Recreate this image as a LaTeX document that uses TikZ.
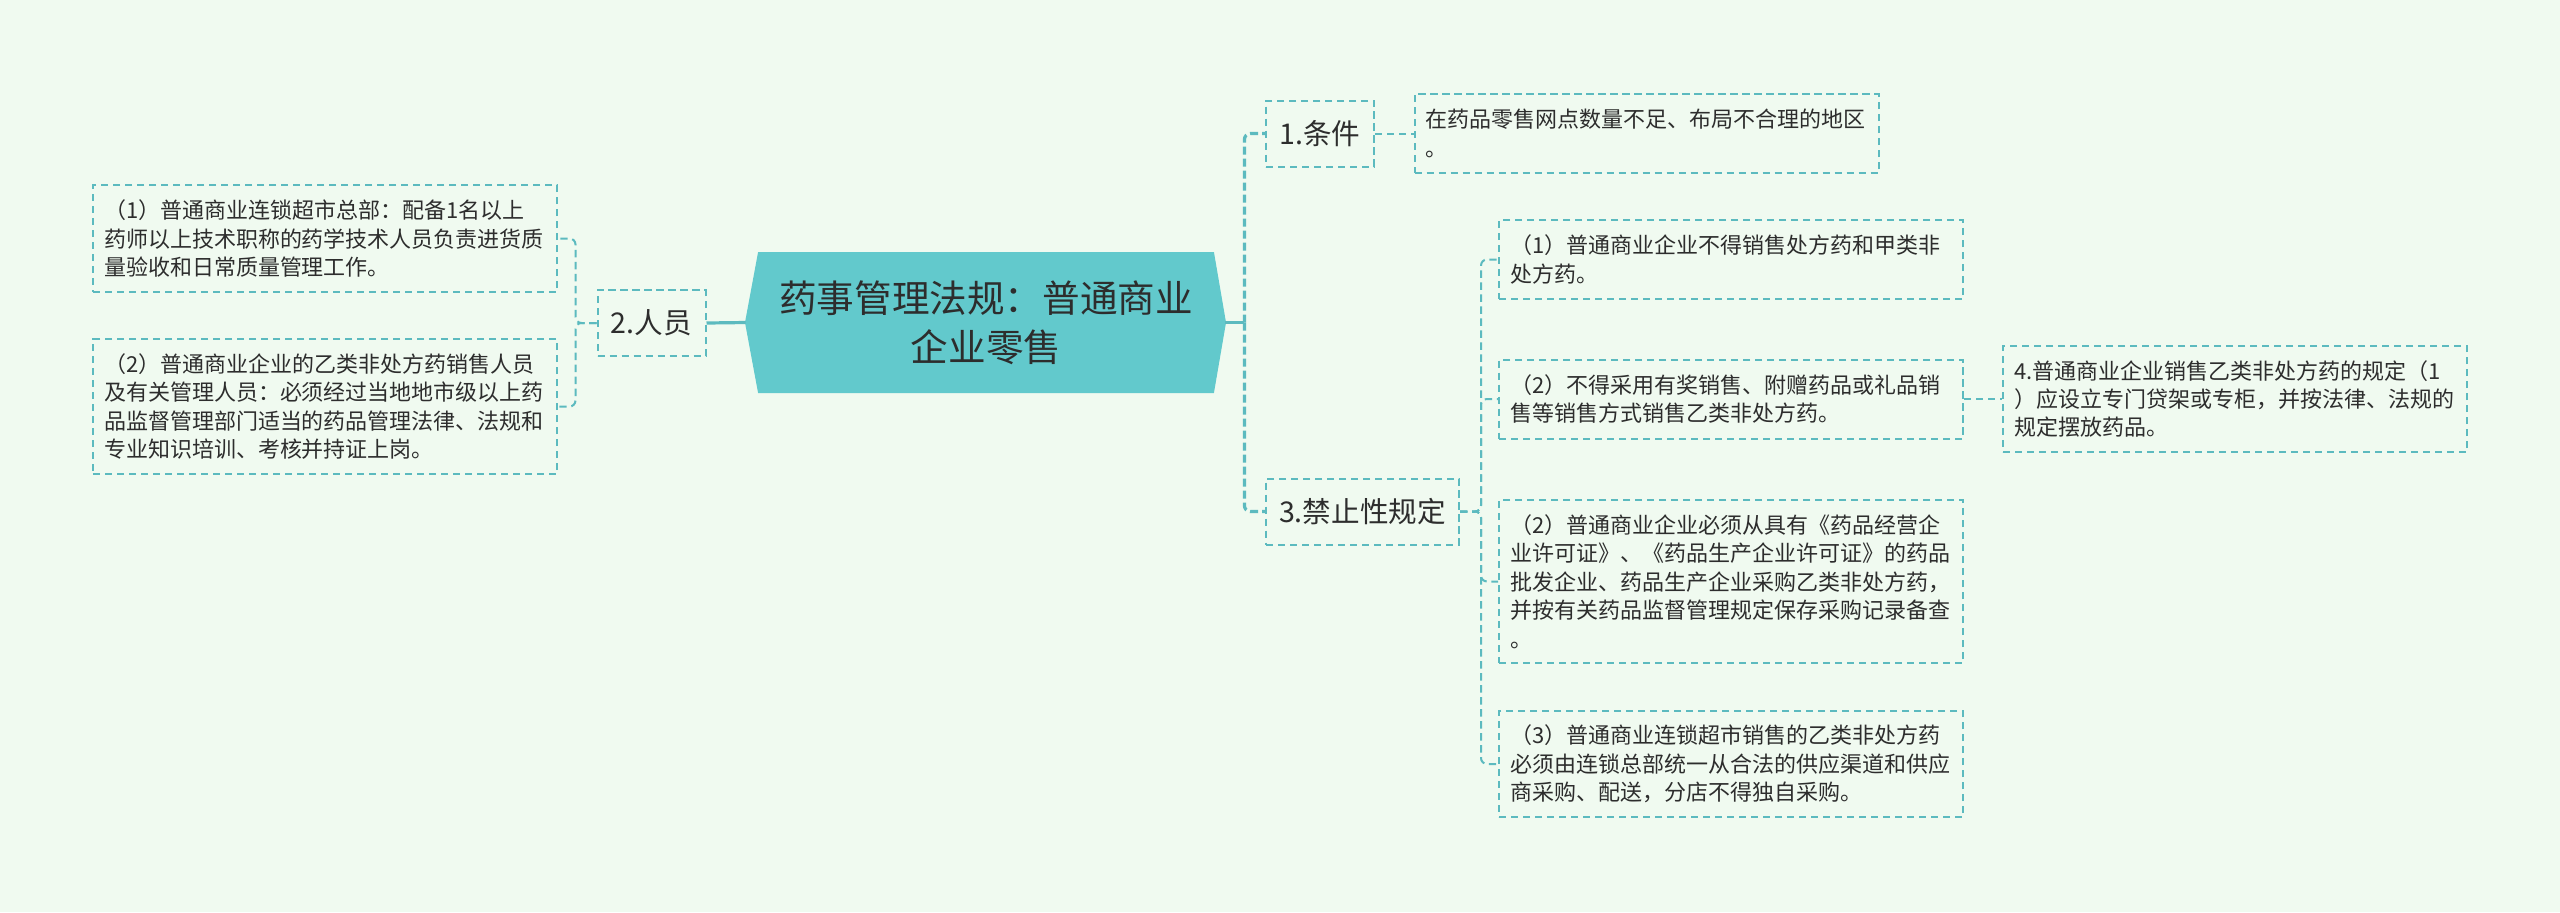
\documentclass[tikz,border=0pt]{standalone}
\usepackage{fontspec}
\setmainfont{Noto Sans CJK SC}
\usetikzlibrary{calc,backgrounds}
\definecolor{bgc}{RGB}{240,250,240}
\definecolor{hexc}{RGB}{98,201,204}
\definecolor{lnc}{RGB}{92,186,191}
\definecolor{txt}{RGB}{45,45,45}
\begin{document}
\begin{tikzpicture}[x=0.5pt,y=-0.5pt,
  leaf/.style={draw=lnc, line width=1pt, dash pattern=on 3.7pt off 2.3pt,
    text=txt, font=\fontsize{11pt}{14.2pt}\selectfont, align=left,
    text width=221pt, inner xsep=5.5pt, inner ysep=0pt},
  lvlone/.style={draw=lnc, line width=1pt, dash pattern=on 3.7pt off 2.3pt,
    text=txt, font=\fontsize{14.3pt}{17pt}\selectfont, inner sep=0pt,
    minimum height=33pt},
  mainbox/.style={text=txt, font=\fontsize{18.8pt}{24.5pt}\selectfont,
    align=center, inner sep=0pt, minimum width=227pt, minimum height=69.5pt},
  conn/.style={draw=lnc, line width=1pt, dash pattern=on 3.7pt off 2.3pt,
    rounded corners=3pt},
  trunkv/.style={draw=lnc, line width=1.6pt, dash pattern=on 4pt off 2pt,
    rounded corners=3pt},
  trunk/.style={draw=lnc, line width=1.6pt}]
\useasboundingbox (0,0) rectangle (2560,912);

% central topic
\node[mainbox] (main) at (986,322.5) {药事管理法规：普通商业\\企业零售};
\coordinate (mainL) at ($(main.west)+(-13,0)$);
\coordinate (mainR) at ($(main.east)+(12,0)$);
\coordinate (jR) at ($(mainR)+(19,0)$);

% level 1
\node[lvlone, minimum width=54pt] (P2) at (651.5,323) {2.人员};
\node[lvlone, minimum width=54pt] (P1) at (1320,133.5) {1.条件};
\node[lvlone, minimum width=96.5pt] (P3) at (1362.5,511.5) {3.禁止性规定};

% leaves
\node[leaf, minimum height=53.5pt] (A1) at (325,238.5)
  {（1）普通商业连锁超市总部：配备1名以上\\药师以上技术职称的药学技术人员负责进货质\\量验收和日常质量管理工作。};
\node[leaf, minimum height=67.5pt] (A2) at (325,406.5)
  {（2）普通商业企业的乙类非处方药销售人员\\及有关管理人员：必须经过当地地市级以上药\\品监督管理部门适当的药品管理法律、法规和\\专业知识培训、考核并持证上岗。};
\node[leaf, minimum height=39.5pt] (Cd) at (1646.5,133.5)
  {在药品零售网点数量不足、布局不合理的地区\\。};
\node[leaf, minimum height=39.5pt] (B1) at (1731,259.5)
  {（1）普通商业企业不得销售处方药和甲类非\\处方药。};
\node[leaf, minimum height=39.5pt] (B2) at (1731,399)
  {（2）不得采用有奖销售、附赠药品或礼品销\\售等销售方式销售乙类非处方药。};
\node[leaf, minimum height=81.5pt] (B3) at (1731,581.5)
  {（2）普通商业企业必须从具有《药品经营企\\业许可证》、《药品生产企业许可证》的药品\\批发企业、药品生产企业采购乙类非处方药，\\并按有关药品监督管理规定保存采购记录备查\\。};
\node[leaf, minimum height=53pt] (B4) at (1731,764)
  {（3）普通商业连锁超市销售的乙类非处方药\\必须由连锁总部统一从合法的供应渠道和供应\\商采购、配送，分店不得独自采购。};
\node[leaf, minimum height=53pt] (C) at (2235,399)
  {4.普通商业企业销售乙类非处方药的规定（1\\）应设立专门贷架或专柜，并按法律、法规的\\规定摆放药品。};

% background and hexagon
\begin{scope}[on background layer]
  \fill[bgc] (0,0) rectangle (2560,912);
  \filldraw[fill=hexc, draw=hexc, line width=0.6pt]
    (main.north west) -- (main.north east) -- (mainR) -- (main.south east)
    -- (main.south west) -- (mainL) -- cycle;
\end{scope}

% connectors
\draw[trunk] (mainL) -- (P2.east);
\draw[trunk] (mainR) -- (jR);
\draw[trunkv] (jR) |- (P1.west);
\draw[trunkv] (jR) |- (P3.west);

\draw[conn] (P2.west) -- ++(-21,0) |- (A1.east);
\draw[conn] (P2.west) -- ++(-21,0) |- (A2.east);

\draw[conn] (P1.east) -- (Cd.west);

\draw[conn] (P3.east) -- ++(21,0) |- (B1.west);
\draw[conn] (P3.east) -- ++(21,0) |- (B2.west);
\draw[conn] (P3.east) -- ++(21,0) |- (B3.west);
\draw[conn] (P3.east) -- ++(21,0) |- (B4.west);

\draw[conn] (B2.east) -- (C.west);
\end{tikzpicture}
\end{document}
